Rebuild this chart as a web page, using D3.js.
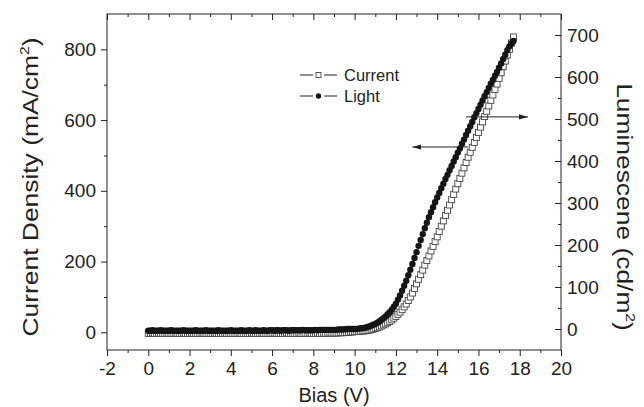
<!DOCTYPE html>
<html>
<head>
<meta charset="utf-8">
<script src="https://cdn.jsdelivr.net/npm/d3@7"></script>
<style>
  body { margin: 0; background: #fff; }
  svg { display: block; font-family: "Liberation Sans", Arial, sans-serif; }
</style>
</head>
<body>
<svg id="chart" width="644" height="407"></svg>
<script>
// bias steps (V)
var bias = [
  0,0.1,0.2,0.3,0.4,0.5,0.6,0.7,0.8,0.9,
  1,1.1,1.2,1.3,1.4,1.5,1.6,1.7,1.8,1.9,
  2,2.1,2.2,2.3,2.4,2.5,2.6,2.7,2.8,2.9,
  3,3.1,3.2,3.3,3.4,3.5,3.6,3.7,3.8,3.9,
  4,4.1,4.2,4.3,4.4,4.5,4.6,4.7,4.8,4.9,
  5,5.1,5.2,5.3,5.4,5.5,5.6,5.7,5.8,5.9,
  6,6.1,6.2,6.3,6.4,6.5,6.6,6.7,6.8,6.9,
  7,7.1,7.2,7.3,7.4,7.5,7.6,7.7,7.8,7.9,
  8,8.1,8.2,8.3,8.4,8.5,8.6,8.7,8.8,8.9,
  9,9.1,9.2,9.3,9.4,9.5,9.6,9.7,9.8,9.9,
  10,10.1,10.2,10.3,10.4,10.5,10.6,10.7,10.8,10.9,
  11,11.1,11.2,11.3,11.4,11.5,11.6,11.7,11.8,11.9,
  12,12.1,12.2,12.3,12.4,12.5,12.6,12.7,12.8,12.9,
  13,13.1,13.2,13.3,13.4,13.5,13.6,13.7,13.8,13.9,
  14,14.1,14.2,14.3,14.4,14.5,14.6,14.7,14.8,14.9,
  15,15.1,15.2,15.3,15.4,15.5,15.6,15.7,15.8,15.9,
  16,16.1,16.2,16.3,16.4,16.5,16.6,16.7,16.8,16.9,
  17,17.1,17.2,17.3,17.4,17.5,17.6,17.7
];

// current density (mA/cm2), left axis
var current = [
  -3,-3,-2,-3,-3,-2,-3,-3,-3,-2,
  -3,-3,-3,-2,-3,-3,-3,-2,-3,-3,
  -3,-2,-3,-3,-3,-3,-2,-3,-3,-3,
  -3,-3,-2,-3,-3,-3,-3,-2,-3,-3,
  -3,-3,-3,-3,-2,-3,-3,-3,-3,-3,
  -2,-3,-3,-3,-3,-2,-3,-3,-3,-3,
  -3,-2,-3,-3,-3,-3,-3,-2,-3,-3,
  -3,-3,-3,-2,-3,-3,-3,-3,-2,-3,
  -3,-3,-2,-3,-3,-2,-3,-2,-2,-2,
  -2,-2,-2,-1,-1,-1,0,0,1,1,
  2,2,3,3,4,4,5,6,7,9,
  11,13,15,18,21,24,27,31,35,40,
  45,51,57,64,72,80,90,100,111,124,
  137,150,163,176,190,203,216,230,243,257,
  270,285,300,315,330,345,360,375,390,405,
  420,435,450,465,480,495,509,523,537,551,
  565,580,595,610,625,640,656,671,687,702,
  718,734,751,767,784,800,818,835
];

// luminescence (cd/m2), right axis
var light = [
  -4,-4,-3,-4,-4,-4,-3,-4,-4,-4,
  -4,-3,-4,-4,-4,-4,-4,-3,-4,-4,
  -4,-4,-4,-3,-4,-4,-4,-4,-3,-4,
  -4,-4,-4,-4,-3,-4,-4,-4,-4,-4,
  -3,-4,-4,-4,-4,-3,-4,-4,-4,-3,
  -4,-4,-3,-4,-4,-4,-3,-4,-4,-3,
  -3,-4,-3,-3,-4,-3,-3,-3,-4,-3,
  -3,-3,-3,-3,-3,-2,-3,-3,-3,-3,
  -3,-2,-3,-2,-2,-2,-2,-2,-2,-2,
  -2,-2,-1,-1,-1,-1,0,0,0,0,
  0,0,1,2,2,3,4,6,8,10,
  12,15,18,22,26,30,35,40,46,53,
  60,70,80,91,103,115,128,141,155,169,
  183,198,212,226,240,253,266,278,290,302,
  313,324,335,346,357,367,378,388,399,409,
  420,430,441,451,462,472,483,493,504,514,
  524,534,544,554,564,574,584,593,603,612,
  622,632,643,653,664,673,680,686
];

var xTicks = [-2, 0, 2, 4, 6, 8, 10, 12, 14, 16, 18, 20];
var xMinor = [-1, 1, 3, 5, 7, 9, 11, 13, 15, 17, 19];
var leftTicks = [0, 200, 400, 600, 800];
var leftMinor = [100, 300, 500, 700];
var rightTicks = [0, 100, 200, 300, 400, 500, 600, 700];
var rightMinor = [50, 150, 250, 350, 450, 550, 650];
var seriesNames = ["Current", "Light"];

// arrows: [start bias, end bias], level on the series' own axis
var arrowBias = [[15.5, 12.8], [15.4, 18.4]];
var arrowLevel = [524, 505];

var svg = d3.select("#chart");
var margin = {top: 14, right: 83, bottom: 57, left: 107};
var W = 644, H = 407;
var ink = "#222";

var x = d3.scaleLinear().domain([-2, 20]).range([margin.left, W - margin.right]);
var yL = d3.scaleLinear().domain([-50, 900]).range([H - margin.bottom, margin.top]);
var yR = d3.scaleLinear().domain([-50, 750]).range([H - margin.bottom, margin.top]);

// plain hyphen for negatives, like the original
var plain = function (d) { return String(d); };

function styleAxis(g) {
  g.select(".domain").remove();
  g.selectAll("line").attr("stroke", ink);
  g.selectAll("text").attr("fill", ink).style("font-size", "19px")
    .style("font-family", '"Liberation Sans", Arial, sans-serif');
}

// bottom
svg.append("g").attr("transform", "translate(0," + (H - margin.bottom) + ")")
  .call(d3.axisBottom(x).tickValues(xTicks).tickSize(6).tickPadding(6).tickFormat(plain))
  .call(styleAxis);
svg.append("g").attr("transform", "translate(0," + (H - margin.bottom) + ")")
  .call(d3.axisBottom(x).tickValues(xMinor).tickSize(3).tickFormat(""))
  .call(styleAxis);
// top (inward)
svg.append("g").attr("transform", "translate(0," + margin.top + ")")
  .call(d3.axisTop(x).tickValues(xTicks).tickSize(-6).tickFormat(""))
  .call(styleAxis);
svg.append("g").attr("transform", "translate(0," + margin.top + ")")
  .call(d3.axisTop(x).tickValues(xMinor).tickSize(-3).tickFormat(""))
  .call(styleAxis);
// left
svg.append("g").attr("transform", "translate(" + margin.left + ",0)")
  .call(d3.axisLeft(yL).tickValues(leftTicks).tickSize(6).tickPadding(5).tickFormat(plain))
  .call(styleAxis);
svg.append("g").attr("transform", "translate(" + margin.left + ",0)")
  .call(d3.axisLeft(yL).tickValues(leftMinor).tickSize(3).tickFormat(""))
  .call(styleAxis);
// right (ticks inward)
svg.append("g").attr("transform", "translate(" + (W - margin.right) + ",0)")
  .call(d3.axisRight(yR).tickValues(rightTicks).tickSize(-6).tickPadding(6).tickFormat(plain))
  .call(styleAxis);
svg.append("g").attr("transform", "translate(" + (W - margin.right) + ",0)")
  .call(d3.axisRight(yR).tickValues(rightMinor).tickSize(-3).tickFormat(""))
  .call(styleAxis);

// frame
svg.append("rect")
  .attr("x", margin.left).attr("y", margin.top)
  .attr("width", W - margin.left - margin.right)
  .attr("height", H - margin.top - margin.bottom)
  .attr("fill", "none").attr("stroke", ink).attr("stroke-width", 1);

// series
var sq = 6;
svg.append("g").selectAll("rect")
  .data(bias)
  .enter()
  .append("rect")
  .attr("x", function (d) { return x(d) - sq / 2; })
  .attr("y", function (d, i) { return yL(current[i]) - sq / 2; })
  .attr("width", sq).attr("height", sq)
  .attr("fill", "#fff").attr("stroke", "#444").attr("stroke-width", 0.9);

svg.append("g").selectAll("circle")
  .data(bias)
  .enter()
  .append("circle")
  .attr("cx", function (d) { return x(d); })
  .attr("cy", function (d, i) { return yR(light[i]); })
  .attr("r", 3.2)
  .attr("fill", "#151515");

// arrows
var defs = svg.append("defs");
defs.append("marker").attr("id", "head")
  .attr("viewBox", "0 0 10 6").attr("refX", 10).attr("refY", 3)
  .attr("markerWidth", 9).attr("markerHeight", 5.4).attr("markerUnits", "userSpaceOnUse")
  .attr("orient", "auto")
  .append("path").attr("d", "M0,0L10,3L0,6Z").attr("fill", ink);

var arrowScales = [yL, yR];
arrowBias.forEach(function (b, i) {
  var yy = arrowScales[i](arrowLevel[i]);
  svg.append("line")
    .attr("x1", x(b[0])).attr("x2", x(b[1]))
    .attr("y1", yy).attr("y2", yy)
    .attr("stroke", ink).attr("stroke-width", 1)
    .attr("marker-end", "url(#head)");
});

// legend
var legend = svg.append("g").attr("transform", "translate(300,75)");
seriesNames.forEach(function (name, i) {
  var row = legend.append("g").attr("transform", "translate(0," + (i * 21) + ")");
  row.append("line").attr("x1", 0).attr("x2", 13).attr("stroke", ink).attr("stroke-width", 1);
  row.append("line").attr("x1", 24).attr("x2", 37).attr("stroke", ink).attr("stroke-width", 1);
  if (i === 0) {
    row.append("rect").attr("x", 16).attr("y", -2.5).attr("width", 5).attr("height", 5)
      .attr("fill", "#fff").attr("stroke", "#444").attr("stroke-width", 0.9);
  } else {
    row.append("circle").attr("cx", 18.5).attr("cy", 0).attr("r", 2.7).attr("fill", "#151515");
  }
  row.append("text").attr("x", 44).attr("y", 6)
    .style("font-size", "16.5px").attr("fill", ink).text(name);
});

// axis titles
svg.append("text")
  .attr("x", (margin.left + W - margin.right) / 2).attr("y", 402)
  .attr("text-anchor", "middle").style("font-size", "20px").attr("fill", ink)
  .text("Bias (V)");

var lt = svg.append("text")
  .attr("transform", "translate(38,187) rotate(-90) scale(1.2,1)")
  .attr("text-anchor", "middle").style("font-size", "22px").attr("fill", ink);
lt.append("tspan").text("Current Density (mA/cm");
lt.append("tspan").attr("dy", -9).style("font-size", "13px").text("2");
lt.append("tspan").attr("dy", 9).text(")");

var rt = svg.append("text")
  .attr("transform", "translate(617,207) rotate(90) scale(1.2,1)")
  .attr("text-anchor", "middle").style("font-size", "22px").attr("fill", ink);
rt.append("tspan").text("Luminescene (cd/m");
rt.append("tspan").attr("dy", -9).style("font-size", "13px").text("2");
rt.append("tspan").attr("dy", 9).text(")");
</script>
</body>
</html>
